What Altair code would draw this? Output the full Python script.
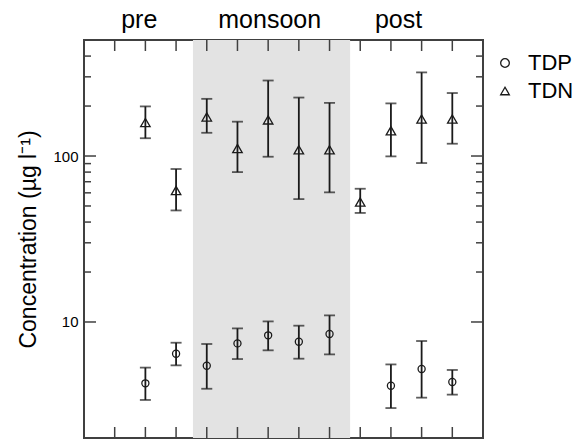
import altair as alt
import pandas as pd

# ---- data ----
tdp_x = [2, 3, 4, 5, 6, 7, 8, 10, 11, 12]
tdp_mean = [4.27, 6.44, 5.45, 7.43, 8.31, 7.61, 8.47, 4.13, 5.21, 4.35]
tdp_low = [3.39, 5.48, 3.96, 5.98, 6.75, 6.01, 6.38, 3.03, 3.50, 3.65]
tdp_high = [5.31, 7.50, 7.37, 9.15, 10.08, 9.50, 10.96, 5.55, 7.68, 5.14]

tdn_x = [2, 3, 4, 5, 6, 7, 8, 9, 10, 11, 12]
tdn_mean = [159, 62, 172, 111, 165, 109, 109, 52.8, 142, 167, 167]
tdn_low = [128, 47, 138, 80, 99, 55, 60.4, 45.4, 99.5, 90.7, 118.6]
tdn_high = [199, 83.5, 221, 161, 285, 225, 209, 63.5, 207.5, 319, 239.6]

seasons = ["pre", "monsoon", "post"]
season_x = [1.8, 6.05, 10.25]
monsoon_span = [3.55, 8.67]

x_ticks = list(range(1, 13))
y_major = [10, 100]
y_minor = [20, 30, 40, 50, 60, 70, 80, 90, 200, 300, 400]

W, H = 399, 398
FONT = "Liberation Sans"
INK = "#1a1a1a"
FRAME = "#404040"

pts = pd.DataFrame({
    "x": tdp_x + tdn_x,
    "mean": tdp_mean + tdn_mean,
    "low": tdp_low + tdn_low,
    "high": tdp_high + tdn_high,
    "series": ["TDP"] * len(tdp_x) + ["TDN"] * len(tdn_x),
})

xscale = alt.Scale(domain=[0, 13], nice=False, zero=False)
yscale = alt.Scale(type="log", domain=[2, 500], nice=False)

xenc = alt.X("x:Q", scale=xscale, axis=None)

shade = alt.Chart(pd.DataFrame({"a": [monsoon_span[0]], "b": [monsoon_span[1]]})).mark_rect(
    color="#e3e3e3").encode(
    x=alt.X("a:Q", scale=xscale, axis=None), x2="b:Q",
    y=alt.value(0), y2=alt.value(H))

base = alt.Chart(pts)

yaxis = alt.Axis(values=y_major, ticks=False, domain=False, grid=False,
                 labelFontSize=15, labelPadding=6, labelColor="black", labelFont=FONT,
                 title="Concentration (\u00b5g l\u207b\u00b9)", titleFontSize=23,
                 titleFontWeight="normal", titleFont=FONT, titleColor="black",
                 titlePadding=12)

bars = base.mark_rule(color=INK, strokeWidth=1.8).encode(
    x=xenc, y=alt.Y("low:Q", scale=yscale, axis=yaxis), y2="high:Q")
cap_lo = base.mark_tick(orient="horizontal", size=11, thickness=1.8, color=INK).encode(
    x=xenc, y=alt.Y("low:Q", scale=yscale))
cap_hi = base.mark_tick(orient="horizontal", size=11, thickness=1.8, color=INK).encode(
    x=xenc, y=alt.Y("high:Q", scale=yscale))

points = base.mark_point(filled=False, color=INK, strokeWidth=1.3, opacity=1).encode(
    x=xenc, y=alt.Y("mean:Q", scale=yscale),
    shape=alt.Shape("series:N",
                    scale=alt.Scale(domain=["TDP", "TDN"], range=["circle", "triangle-up"]),
                    legend=alt.Legend(title=None, orient="none", legendX=410, legendY=12,
                                      labelFontSize=22, labelFont=FONT, labelColor="black",
                                      symbolSize=75, symbolStrokeColor=INK,
                                      symbolFillColor="transparent", symbolStrokeWidth=1.3,
                                      labelOffset=12, rowPadding=6, padding=0)),
    size=alt.condition("datum.series == 'TDP'", alt.value(50), alt.value(90)),
)

xt = pd.DataFrame({"t": x_ticks})
top_ticks = alt.Chart(xt).mark_rule(color=FRAME, strokeWidth=1.5).encode(
    x=alt.X("t:Q", scale=xscale, axis=None), y=alt.value(0), y2=alt.value(11))
bot_ticks = alt.Chart(xt).mark_rule(color=FRAME, strokeWidth=1.5).encode(
    x=alt.X("t:Q", scale=xscale, axis=None), y=alt.value(H - 11), y2=alt.value(H))

ymaj = pd.DataFrame({"v": y_major})
ymin = pd.DataFrame({"v": y_minor})
def yticks(df, x0, x1):
    return alt.Chart(df).mark_rule(color=FRAME, strokeWidth=1.5).encode(
        y=alt.Y("v:Q", scale=yscale), x=alt.value(x0), x2=alt.value(x1))

season_text = alt.Chart(pd.DataFrame({"s": seasons, "x": season_x})).mark_text(
    fontSize=25, font=FONT, color="black", baseline="alphabetic", align="center").encode(
    x=alt.X("x:Q", scale=xscale, axis=None), y=alt.value(-12), text="s:N")

chart = alt.layer(
    shade, bars, cap_lo, cap_hi, points,
    top_ticks, bot_ticks,
    yticks(ymaj, 0, 12), yticks(ymin, 0, 7),
    yticks(ymaj, W - 12, W), yticks(ymin, W - 7, W),
    season_text,
).properties(
    width=W, height=H,
    background="white",
    autosize=alt.AutoSizeParams(type="none"),
    padding={"left": 84, "top": 40, "right": 102, "bottom": 2},
).configure_view(stroke=FRAME, strokeWidth=2)

chart.save("out.html", embed_options={"renderer": "svg", "actions": False})
